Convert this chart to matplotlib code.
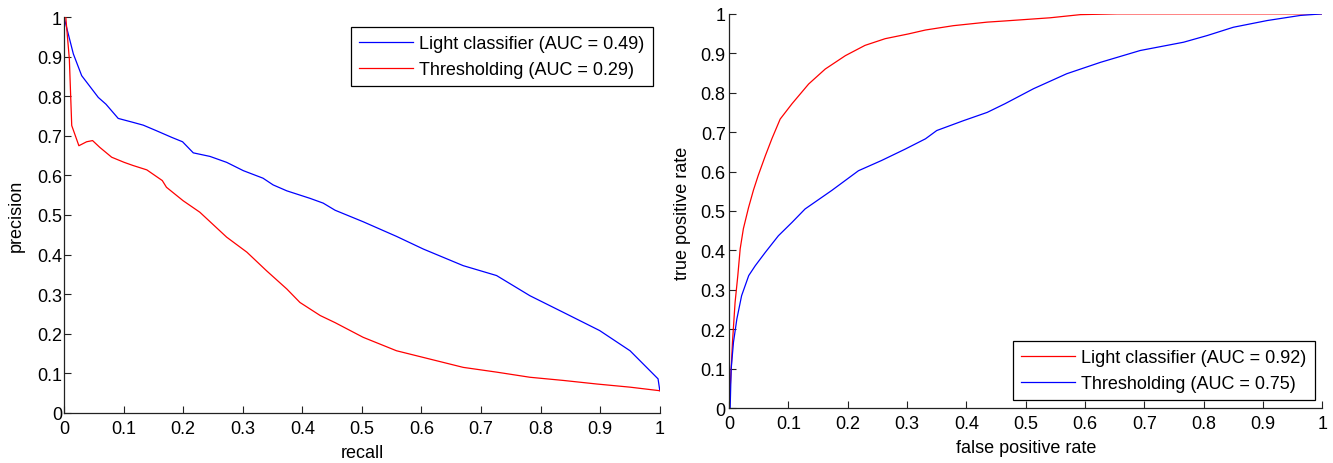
import matplotlib
matplotlib.use("Agg")
import matplotlib.pyplot as plt

plt.rcParams['font.family'] = ['Liberation Sans', 'DejaVu Sans']

# Precision-recall curves (left panel)
pr_light_recall = [0.0, 0.0157, 0.0297, 0.0576, 0.0704, 0.091, 0.116, 0.133, 0.155, 0.181, 0.199,
                   0.217, 0.245, 0.273, 0.301, 0.334, 0.351, 0.374, 0.413, 0.435, 0.455, 0.502,
                   0.558, 0.603, 0.670, 0.726, 0.782, 0.838, 0.899, 0.950, 0.997, 1.0]
pr_light_precision = [1.0, 0.907, 0.852, 0.797, 0.780, 0.744, 0.734, 0.727, 0.713, 0.696, 0.685,
                      0.657, 0.648, 0.633, 0.612, 0.593, 0.576, 0.561, 0.542, 0.530, 0.512, 0.483,
                      0.446, 0.414, 0.372, 0.347, 0.296, 0.254, 0.208, 0.157, 0.086, 0.056]

pr_thresh_recall = [0.003, 0.009, 0.013, 0.025, 0.038, 0.048, 0.060, 0.080, 0.101, 0.116, 0.139,
                    0.165, 0.172, 0.200, 0.228, 0.273, 0.307, 0.340, 0.374, 0.396, 0.430, 0.455,
                    0.502, 0.558, 0.614, 0.670, 0.726, 0.782, 0.838, 0.894, 0.950, 1.0]
pr_thresh_precision = [1.0, 0.894, 0.726, 0.675, 0.685, 0.688, 0.671, 0.646, 0.633, 0.625, 0.614,
                       0.587, 0.570, 0.536, 0.507, 0.444, 0.406, 0.359, 0.313, 0.279, 0.246, 0.228,
                       0.191, 0.157, 0.136, 0.115, 0.103, 0.090, 0.082, 0.073, 0.065, 0.056]

# ROC curves (right panel)
roc_light_fpr = [0.0, 0.0034, 0.0056, 0.010, 0.0146, 0.0186, 0.024, 0.0326, 0.041, 0.049, 0.061,
                 0.072, 0.086, 0.106, 0.134, 0.162, 0.196, 0.229, 0.263, 0.302, 0.331, 0.378,
                 0.435, 0.465, 0.541, 0.592, 0.654, 1.0]
roc_light_tpr = [0.0, 0.099, 0.167, 0.268, 0.336, 0.404, 0.455, 0.508, 0.553, 0.590, 0.640,
                 0.683, 0.733, 0.772, 0.822, 0.860, 0.894, 0.920, 0.937, 0.949, 0.959, 0.970,
                 0.979, 0.982, 0.990, 0.998, 1.0, 1.0]

roc_thresh_fpr = [0.0, 0.0017, 0.0034, 0.0073, 0.013, 0.021, 0.033, 0.044, 0.061, 0.083, 0.106,
                  0.128, 0.173, 0.218, 0.257, 0.297, 0.331, 0.350, 0.395, 0.435, 0.465, 0.513,
                  0.569, 0.626, 0.693, 0.766, 0.806, 0.850, 0.907, 0.963, 1.0]
roc_thresh_tpr = [0.0, 0.0, 0.099, 0.167, 0.226, 0.285, 0.336, 0.361, 0.395, 0.437, 0.471,
                  0.505, 0.552, 0.602, 0.628, 0.657, 0.683, 0.704, 0.729, 0.750, 0.772, 0.810,
                  0.848, 0.877, 0.907, 0.928, 0.945, 0.966, 0.983, 0.996, 1.0]

ticks = [0, 0.1, 0.2, 0.3, 0.4, 0.5, 0.6, 0.7, 0.8, 0.9, 1]
tick_labels = ['0', '0.1', '0.2', '0.3', '0.4', '0.5', '0.6', '0.7', '0.8', '0.9', '1']

BLUE = '#0000ff'
RED = '#ff0000'
FS = 13

fig = plt.figure(figsize=(13.33, 4.64), dpi=100)
ax1 = fig.add_axes([0.048, 0.108, 0.447, 0.853])
ax2 = fig.add_axes([0.547, 0.1185, 0.445, 0.8495])


def style(ax, ypad):
    ax.set_xlim(0, 1)
    ax.set_ylim(0, 1)
    ax.set_xticks(ticks)
    ax.set_yticks(ticks)
    ax.set_xticklabels(tick_labels, fontsize=FS)
    ax.set_yticklabels(tick_labels, fontsize=FS)
    ax.spines['top'].set_visible(False)
    ax.spines['right'].set_visible(False)
    for s in ('left', 'bottom'):
        ax.spines[s].set_linewidth(0.9)
        ax.spines[s].set_color('#222222')
    ax.tick_params(direction='in', length=5, width=0.8, colors='#222222', labelcolor='black')
    ax.tick_params(axis='x', pad=5)
    ax.tick_params(axis='y', pad=ypad)


legend_kw = dict(borderaxespad=0, fontsize=FS, handlelength=3.0, fancybox=False,
                 framealpha=1, edgecolor='black', borderpad=0.45, labelspacing=0.5,
                 handletextpad=0.35)

ax1.plot(pr_light_recall, pr_light_precision, color=BLUE, lw=0.9,
         label='Light classifier (AUC = 0.49)')
ax1.plot(pr_thresh_recall, pr_thresh_precision, color=RED, lw=0.9,
         label='Thresholding (AUC = 0.29)')
style(ax1, 1.5)
ax1.set_xlabel('recall', fontsize=FS, va='center')
ax1.xaxis.set_label_coords(0.5, -0.101)
ax1.set_ylabel('precision', fontsize=FS, va='center')
ax1.yaxis.set_label_coords(-0.0805, 0.5)
leg1 = ax1.legend(loc='upper right', bbox_to_anchor=(0.988, 0.975), **legend_kw)
leg1.get_frame().set_linewidth(0.9)

ax2.plot(roc_light_fpr, roc_light_tpr, color=RED, lw=0.9,
         label='Light classifier (AUC = 0.92)')
ax2.plot(roc_thresh_fpr, roc_thresh_tpr, color=BLUE, lw=0.9,
         label='Thresholding (AUC = 0.75)')
style(ax2, 2.5)
ax2.set_xlabel('false positive rate', fontsize=FS, va='center')
ax2.xaxis.set_label_coords(0.5, -0.099)
ax2.set_ylabel('true positive rate', fontsize=FS, va='center')
ax2.yaxis.set_label_coords(-0.079, 0.496)
leg2 = ax2.legend(loc='lower right', bbox_to_anchor=(0.987, 0.020), **legend_kw)
leg2.get_frame().set_linewidth(0.9)

fig.savefig('out.png', dpi=100)
